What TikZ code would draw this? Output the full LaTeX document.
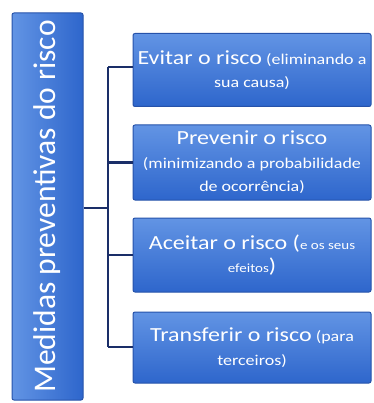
\documentclass[tikz,border=0pt]{standalone}
\usepackage{fontspec}
\setmainfont{Carlito}
\newfontfamily\rf[FakeStretch=1.2]{Carlito}
\newfontfamily\lf{Carlito}
\definecolor{boxtop}{RGB}{98,148,228}
\definecolor{boxbot}{RGB}{46,102,204}
\definecolor{boxedge}{RGB}{38,82,170}
\definecolor{conn}{RGB}{26,46,104}
\newcommand{\bgt}{\fontsize{20}{23}\selectfont}
\newcommand{\sml}{\fontsize{15}{23}\selectfont}
\newcommand{\tny}{\fontsize{12.5}{23}\selectfont}
\begin{document}
\begin{tikzpicture}[x=1pt,y=1pt,
  item/.style={draw=boxedge, line width=1pt, rounded corners=2pt,
    top color=boxtop, bottom color=boxbot, minimum width=238pt,
    text=white, align=center, inner sep=0pt, font=\rf\fontsize{15}{23.5}\selectfont},
  conline/.style={draw=conn, line width=2.8pt}]
\useasboundingbox (0,0) rectangle (373,-403);
\node[draw=boxedge, line width=1pt, rounded corners=2pt,
  left color=boxtop, right color=boxbot, minimum width=71pt, minimum height=387pt,
  inner sep=0pt] (main) at (47.5,-206.5) {};
\node[rotate=90, text=white, font=\lf\fontsize{31.5}{34}\selectfont] (mtxt) at (main.center) {Medidas preventivas do risco};
\node[item, minimum height=73pt] (b1) at (252,-70)
  {{\bgt Evitar o risco} {\sml (eliminando a}\\{\sml sua causa)}};
\node[item, minimum height=75pt] (b2) at (252,-162.5)
  {{\bgt Prevenir o risco}\\{\sml (minimizando a probabilidade}\\{\sml de ocorrência)}};
\node[item, minimum height=74pt] (b3) at (252,-255)
  {{\bgt Aceitar o risco (}{\tny e os seus}\\{\tny efeitos}{\bgt )}};
\node[item, minimum height=71pt] (b4) at (252,-347.5)
  {{\bgt Transferir o risco} {\sml (para}\\{\sml terceiros)}};
\coordinate (j) at (108,-208);
\coordinate (t1) at (108,-67);
\coordinate (t4) at (108,-347);
\draw[conline] (main.east |- j) -- (j);
\draw[conline] (t1) -- (t4);
\draw[conline] (t1) -- (t1 -| b1.west);
\draw[conline] (t1 |- b2.west) -- (b2.west);
\draw[conline] (t1 |- b3.west) -- (b3.west);
\draw[conline] (t4) -- (t4 -| b4.west);
\end{tikzpicture}
\end{document}
